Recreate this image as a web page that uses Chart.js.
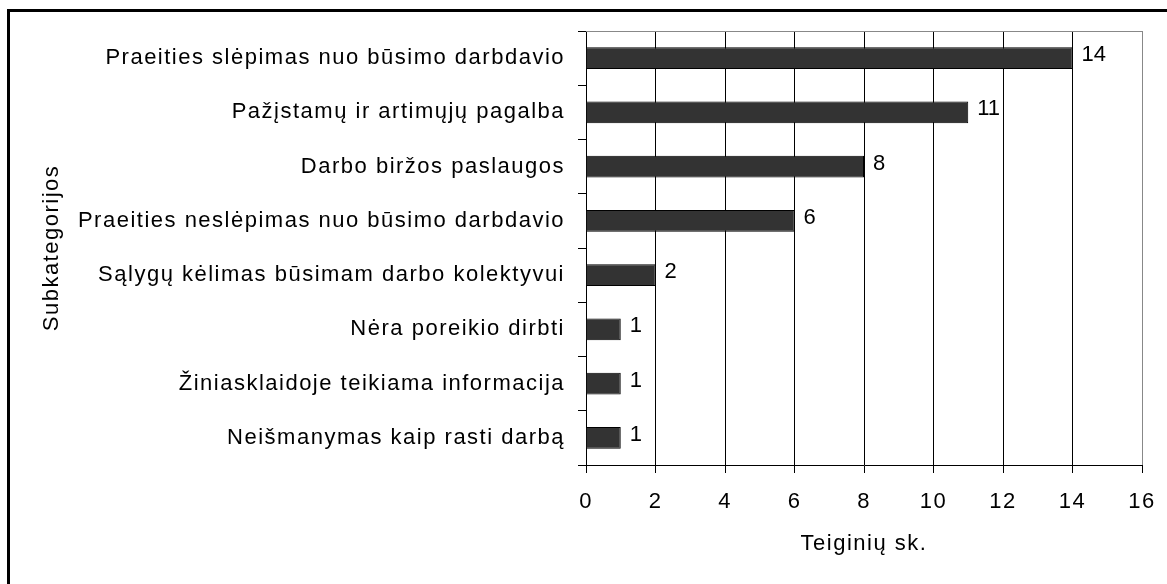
<!DOCTYPE html>
<html lang="lt">
<head>
<meta charset="utf-8">
<script src="https://cdn.jsdelivr.net/npm/chart.js@4/dist/chart.umd.min.js"></script>
<style>
  html, body { margin: 0; padding: 0; background: #fff; }
  #wrap { position: relative; width: 1167px; height: 584px; overflow: hidden; }
  #frame {
    position: absolute; left: 7px; top: 9px; width: 1200px; height: 600px;
    border-left: 3px solid #000; border-top: 3px solid #000; pointer-events: none;
  }
</style>
</head>
<body>
<div id="wrap">
  <canvas id="mychart" width="1167" height="584"></canvas>
  <div id="frame"></div>
</div>
<script>
// Subkategorijos ir teiginių skaičius
const categories = [
  "Praeities slėpimas nuo būsimo darbdavio",
  "Pažįstamų ir artimųjų pagalba",
  "Darbo biržos paslaugos",
  "Praeities neslėpimas nuo būsimo darbdavio",
  "Sąlygų kėlimas būsimam darbo kolektyvui",
  "Nėra poreikio dirbti",
  "Žiniasklaidoje teikiama informacija",
  "Neišmanymas kaip rasti darbą",
];
const counts = [14, 11, 8, 6, 2, 1, 1, 1];
const xTicks = [0, 2, 4, 6, 8, 10, 12, 14, 16];

Chart.defaults.font.family = "'Liberation Sans', Arial, sans-serif";
Chart.defaults.font.size = 22;
Chart.defaults.color = "#000";

// Platesni tarpai tarp raidžių, kaip Excel'io grafike
const spacing = {
  id: "spacing",
  beforeLayout(chart) { chart.ctx.letterSpacing = "1.5px"; },
  beforeDraw(chart) { chart.ctx.letterSpacing = "1.5px"; },
};

// Pilkas brėžinio srities viršutinis kraštas
const plotTop = {
  id: "plotTop",
  beforeDatasetsDraw(chart) {
    const { ctx, chartArea: a } = chart;
    ctx.save();
    ctx.strokeStyle = "#888";
    ctx.lineWidth = 1;
    ctx.beginPath();
    ctx.moveTo(a.left, Math.round(a.top) + 0.5);
    ctx.lineTo(a.right, Math.round(a.top) + 0.5);
    ctx.stroke();
    ctx.restore();
  },
};

// Reikšmės prie stulpelių galų
const valueLabels = {
  id: "valueLabels",
  afterDatasetsDraw(chart) {
    const { ctx } = chart;
    const meta = chart.getDatasetMeta(0);
    ctx.save();
    ctx.letterSpacing = "0px";
    ctx.font = "22px 'Liberation Sans', Arial, sans-serif";
    ctx.fillStyle = "#000";
    ctx.textAlign = "left";
    ctx.textBaseline = "middle";
    meta.data.forEach((bar, i) => {
      ctx.fillText(String(counts[i]), bar.x + 9, bar.y - 3);
    });
    ctx.restore();
  },
};

const ctx = document.getElementById("mychart").getContext("2d");
const mychart = new Chart(ctx, {
  type: "bar",
  data: {
    labels: categories,
    datasets: [
      {
        data: counts,
        backgroundColor: "#333333",
        borderColor: "#000",
        borderWidth: 1,
        barPercentage: 0.4,
        categoryPercentage: 1,
      },
    ],
  },
  options: {
    indexAxis: "y",
    responsive: false,
    animation: false,
    layout: { padding: { left: 0, right: 25, top: 31, bottom: 0 } },
    plugins: {
      legend: { display: false },
      tooltip: { enabled: false },
    },
    scales: {
      x: {
        min: 0,
        max: 16,
        afterBuildTicks: (scale) => {
          scale.ticks = xTicks.map((v) => ({ value: v }));
        },
        afterFit: (scale) => {
          scale.height = 119;
          scale.paddingLeft = 0;
          scale.paddingRight = 0;
        },
        grid: {
          color: (c) => (c.tick && c.tick.value === 16 ? "#888" : "#000"),
          tickColor: "#000",
          tickLength: 8,
          lineWidth: 1,
        },
        border: { color: "#000", width: 1 },
        ticks: { padding: 16, maxRotation: 0 },
        title: {
          display: true,
          text: "Teiginių sk.",
          padding: { top: 0, bottom: 27 },
        },
      },
      y: {
        afterFit: (scale) => { scale.width = 586; },
        grid: {
          drawOnChartArea: false,
          offset: true,
          tickColor: "#000",
          tickLength: 8,
        },
        border: { color: "#000", width: 1 },
        ticks: { padding: 13, autoSkip: false },
        title: {
          display: true,
          text: "Subkategorijos",
          padding: { top: 39, bottom: 0 },
        },
      },
    },
  },
  plugins: [spacing, plotTop, valueLabels],
});
</script>
</body>
</html>
